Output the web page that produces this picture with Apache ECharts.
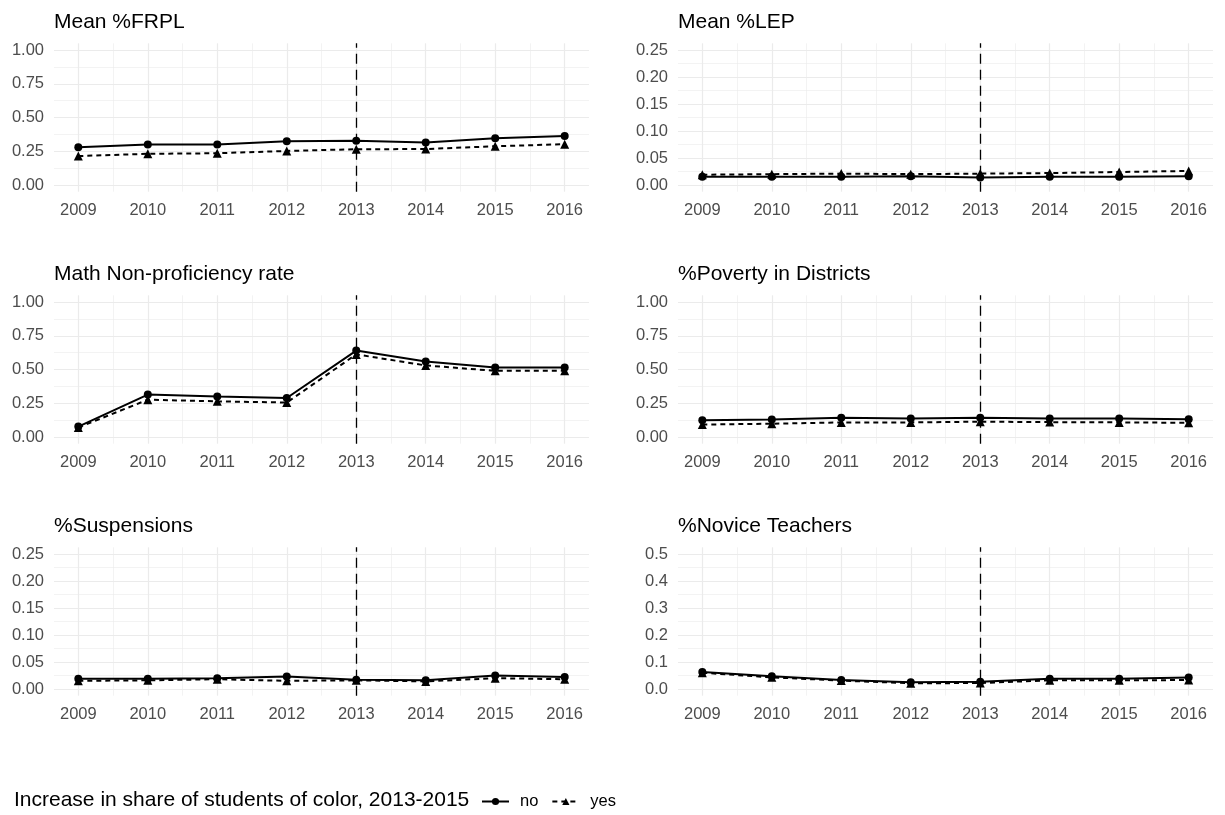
<!DOCTYPE html>
<html>
<head>
<meta charset="utf-8">
<title>School district indicators, 2009-2016</title>
<script src="https://cdn.jsdelivr.net/npm/echarts@6/dist/echarts.min.js"></script>
<style>
  html, body { margin: 0; padding: 0; background: #ffffff; }
  #chart { width: 1225px; height: 815px; }
</style>
</head>
<body>
<div id="chart"></div>
<script>
// ---- data -------------------------------------------------------------
const years = [2009, 2010, 2011, 2012, 2013, 2014, 2015, 2016];
const yearMinor = [2009.5, 2010.5, 2011.5, 2012.5, 2013.5, 2014.5, 2015.5];
const policyYear = 2013;

const panelTitles = [
  'Mean %FRPL', 'Mean %LEP',
  'Math Non-proficiency rate', '%Poverty in Districts',
  '%Suspensions', '%Novice Teachers'
];

// "no" = share of students of color did not increase, "yes" = it increased
const frplNo      = [0.280, 0.300, 0.300, 0.324, 0.327, 0.315, 0.346, 0.362];
const frplYes     = [0.214, 0.231, 0.235, 0.252, 0.265, 0.266, 0.287, 0.302];
const lepNo       = [0.015, 0.015, 0.015, 0.016, 0.014, 0.015, 0.015, 0.016];
const lepYes      = [0.019, 0.020, 0.021, 0.020, 0.021, 0.022, 0.024, 0.026];
const mathNo      = [0.077, 0.314, 0.299, 0.289, 0.640, 0.559, 0.515, 0.515];
const mathYes     = [0.070, 0.276, 0.264, 0.255, 0.612, 0.530, 0.490, 0.490];
const povertyNo   = [0.123, 0.130, 0.142, 0.137, 0.142, 0.137, 0.137, 0.132];
const povertyYes  = [0.092, 0.098, 0.108, 0.108, 0.113, 0.110, 0.108, 0.105];
const suspNo      = [0.019, 0.019, 0.020, 0.023, 0.017, 0.016, 0.025, 0.022];
const suspYes     = [0.015, 0.016, 0.018, 0.015, 0.016, 0.014, 0.020, 0.018];
const noviceNo    = [0.063, 0.047, 0.033, 0.025, 0.027, 0.038, 0.038, 0.042];
const noviceYes   = [0.060, 0.043, 0.031, 0.021, 0.022, 0.032, 0.032, 0.033];

// y-axis tick labels per panel (major) and minor grid values
const ticksUnit    = [0, 0.25, 0.5, 0.75, 1];
const minorUnit    = [0.125, 0.375, 0.625, 0.875];
const ticksQuarter = [0, 0.05, 0.1, 0.15, 0.2, 0.25];
const minorQuarter = [0.025, 0.075, 0.125, 0.175, 0.225];
const ticksHalf    = [0, 0.1, 0.2, 0.3, 0.4, 0.5];
const minorHalf    = [0.05, 0.15, 0.25, 0.35, 0.45];

const legendTitle = 'Increase in share of students of color, 2013-2015';
const groupNames = ['no', 'yes'];

// ---- panel setup --------------------------------------------------------
const panels = [
  { title: panelTitles[0], no: frplNo,    yes: frplYes,    ticks: ticksUnit,    minor: minorUnit,    top: 1,   digits: 2 },
  { title: panelTitles[1], no: lepNo,     yes: lepYes,     ticks: ticksQuarter, minor: minorQuarter, top: 0.25, digits: 2 },
  { title: panelTitles[2], no: mathNo,    yes: mathYes,    ticks: ticksUnit,    minor: minorUnit,    top: 1,   digits: 2 },
  { title: panelTitles[3], no: povertyNo, yes: povertyYes, ticks: ticksUnit,    minor: minorUnit,    top: 1,   digits: 2 },
  { title: panelTitles[4], no: suspNo,    yes: suspYes,    ticks: ticksQuarter, minor: minorQuarter, top: 0.25, digits: 2 },
  { title: panelTitles[5], no: noviceNo,  yes: noviceYes,  ticks: ticksHalf,    minor: minorHalf,    top: 0.5, digits: 1 }
];

const FONT = 'Liberation Sans, Arial, Helvetica, sans-serif';
const GRID_MAJOR = '#ebebeb';
const AXIS_TEXT = '#4d4d4d';

const colLeft = [54, 678];
const rowTop = [43.3, 295.3, 547.3];
const panelW = 535;
const panelH = 148.4;

// 5% padding of the data range on both sides of each axis
const xSpan = years[years.length - 1] - years[0];
const xMin = years[0] - 0.05 * xSpan;
const xMax = years[years.length - 1] + 0.05 * xSpan;

const grids = [], xAxes = [], yAxes = [], series = [], titles = [];

panels.forEach((p, i) => {
  const col = i % 2, row = Math.floor(i / 2);
  grids.push({ left: colLeft[col], top: rowTop[row], width: panelW, height: panelH, containLabel: false });

  titles.push({
    text: p.title, left: colLeft[col], top: rowTop[row] - 32, padding: 0,
    textStyle: { fontFamily: FONT, fontSize: 21, fontWeight: 'normal', color: '#000000' }
  });

  const yMin = -0.05 * p.top, yMax = 1.05 * p.top;

  // minor grid (drawn first so it sits under the major grid)
  xAxes.push({
    type: 'value', gridIndex: i, min: xMin, max: xMax, position: 'top',
    axisLine: { show: false }, axisTick: { show: false, customValues: yearMinor },
    axisLabel: { show: false, customValues: yearMinor },
    splitLine: { show: true, lineStyle: { color: GRID_MAJOR, width: 0.6 } }
  });
  xAxes.push({
    type: 'value', gridIndex: i, min: xMin, max: xMax, position: 'bottom',
    axisLine: { show: false, onZero: false }, axisTick: { show: false, customValues: years },
    axisLabel: { customValues: years, color: AXIS_TEXT, fontFamily: FONT, fontSize: 16.5, margin: 10,
                 formatter: v => String(Math.round(v)) },
    splitLine: { show: true, lineStyle: { color: GRID_MAJOR, width: 1.2 } }
  });
  yAxes.push({
    type: 'value', gridIndex: i, min: yMin, max: yMax, position: 'right',
    axisLine: { show: false }, axisTick: { show: false, customValues: p.minor },
    axisLabel: { show: false, customValues: p.minor },
    splitLine: { show: true, lineStyle: { color: GRID_MAJOR, width: 0.6 } }
  });
  yAxes.push({
    type: 'value', gridIndex: i, min: yMin, max: yMax, position: 'left',
    axisLine: { show: false, onZero: false }, axisTick: { show: false, customValues: p.ticks },
    axisLabel: { customValues: p.ticks, color: AXIS_TEXT, fontFamily: FONT, fontSize: 16.5, margin: 10,
                 formatter: v => Number(v).toFixed(p.digits) },
    splitLine: { show: true, lineStyle: { color: GRID_MAJOR, width: 1.2 } }
  });

  const xi = 2 * i + 1, yi = 2 * i + 1;
  series.push({
    name: groupNames[0], type: 'line', xAxisIndex: xi, yAxisIndex: yi,
    data: years.map((y, k) => [y, p.no[k]]),
    symbol: 'circle', symbolSize: 8, showSymbol: true,
    lineStyle: { color: '#000000', width: 2, type: 'solid' },
    itemStyle: { color: '#000000' },
    z: 4,
    markLine: {
      silent: true, symbol: ['none', 'none'], label: { show: false },
      lineStyle: { color: '#000000', width: 1.3, type: [10, 6] },
      emphasis: { disabled: true },
      data: [{ xAxis: policyYear }]
    }
  });
  series.push({
    name: groupNames[1], type: 'line', xAxisIndex: xi, yAxisIndex: yi,
    data: years.map((y, k) => [y, p.yes[k]]),
    symbol: 'triangle', symbolSize: 9, showSymbol: true,
    lineStyle: { color: '#000000', width: 2, type: [5, 4] },
    itemStyle: { color: '#000000' },
    z: 3
  });
});

titles.push({
  text: legendTitle, left: 14, top: 790, padding: 0,
  textStyle: { fontFamily: FONT, fontSize: 21, fontWeight: 'normal', color: '#000000' }
});

const chart = echarts.init(document.getElementById('chart'), null, { renderer: 'canvas' });
chart.setOption({
  animation: false,
  backgroundColor: '#ffffff',
  title: titles,
  legend: {
    data: groupNames, left: 481, top: 793, padding: 0,
    itemWidth: 27, itemHeight: 9, itemGap: 13,
    textStyle: { fontFamily: FONT, fontSize: 16.5, color: '#000000', padding: [0, 0, 0, 6] },
    selectedMode: false
  },
  grid: grids,
  xAxis: xAxes,
  yAxis: yAxes,
  series: series
});
</script>
</body>
</html>
